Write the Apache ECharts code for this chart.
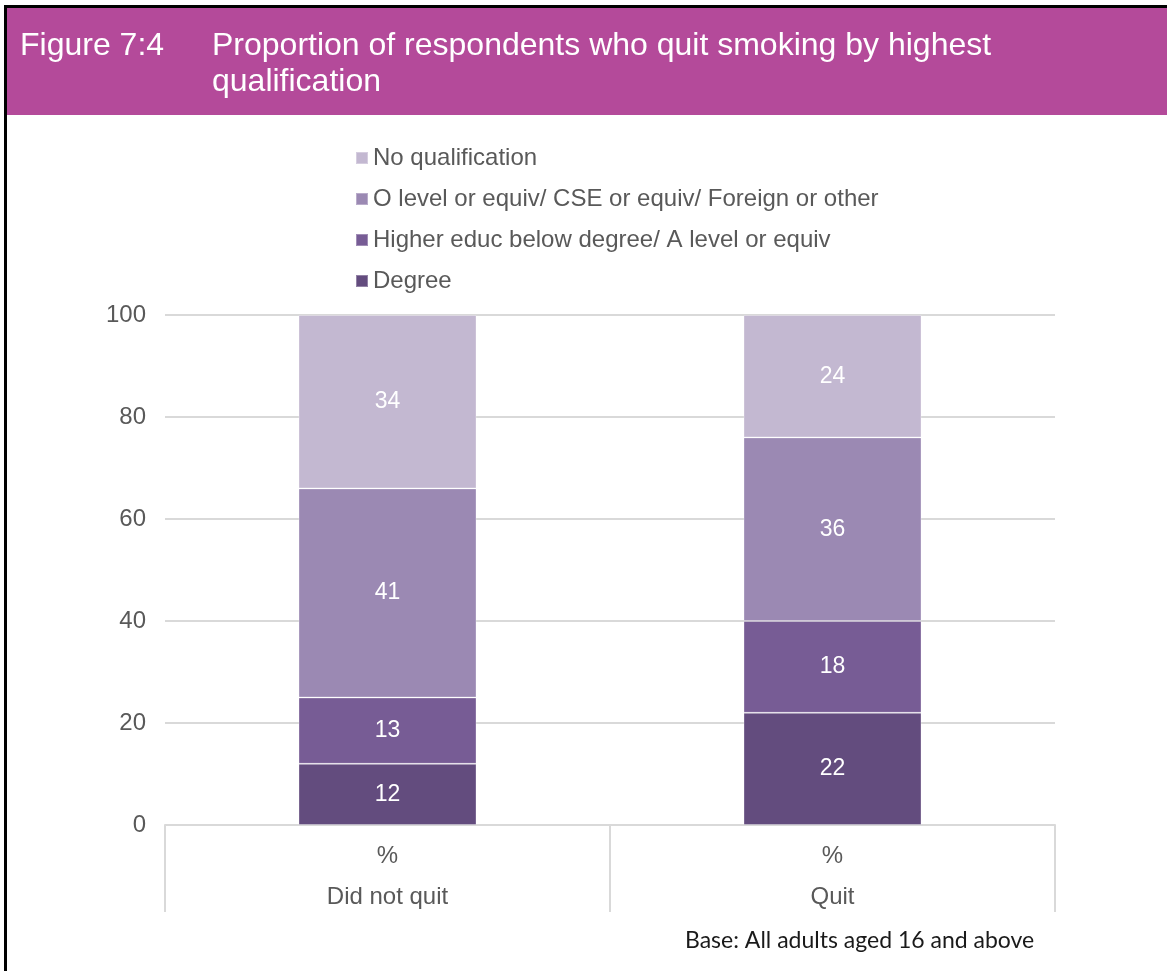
<!DOCTYPE html>
<html>
<head>
<meta charset="utf-8">
<title>Figure 7:4</title>
<script src="https://cdn.jsdelivr.net/npm/echarts@6/dist/echarts.min.js"></script>
<style>
  html, body { margin: 0; padding: 0; background: #ffffff; }
  #chart { width: 1167px; height: 971px; }
</style>
</head>
<body>
<div id="chart"></div>
<script>
// Respondent groups along the x axis, with the unit row drawn above each name
const categories = ['Did not quit', 'Quit'];
const unitLabels = ['%', '%'];

// Highest qualification shares (%), stacked from the bottom up
const degree = [12, 22];
const higherEduc = [13, 18];
const oLevel = [41, 36];
const noQualification = [34, 24];

const seriesNames = [
  'Degree',
  'Higher educ below degree/ A level or equiv',
  'O level or equiv/ CSE or equiv/ Foreign or other',
  'No qualification'
];
const seriesValues = [degree, higherEduc, oLevel, noQualification];
const seriesColors = ['#634C7E', '#775C95', '#9B89B3', '#C3B8D1'];

// Value axis ticks
const yMin = 0;
const yMax = 100;
const yStep = 20;

const textGrey = '#595959';
const gridGrey = '#D9D9D9';
const fontFamily = '"Liberation Sans", Arial, sans-serif';

const chart = echarts.init(document.getElementById('chart'), null, { renderer: 'canvas' });

const series = seriesNames.map((name, i) => ({
  name: name,
  type: 'bar',
  stack: 'total',
  barWidth: '40%',
  data: seriesValues[i],
  itemStyle: {
    color: seriesColors[i],
    borderColor: 'rgba(255,255,255,0.3)',
    borderWidth: 1
  },
  label: {
    show: true,
    position: 'inside',
    color: '#FFFFFF',
    fontFamily: fontFamily,
    fontSize: 23
  },
  emphasis: { disabled: true }
}));

chart.setOption({
  animation: false,
  backgroundColor: '#FFFFFF',
  title: [
    {
      text: 'Figure 7:4',
      left: 15,
      top: 23,
      textStyle: { color: '#FFFFFF', fontFamily: fontFamily, fontSize: 32, fontWeight: 'normal', lineHeight: 36 }
    },
    {
      text: 'Proportion of respondents who quit smoking by highest\nqualification',
      left: 207,
      top: 23,
      textStyle: { color: '#FFFFFF', fontFamily: fontFamily, fontSize: 32, fontWeight: 'normal', lineHeight: 36 }
    },
    {
      text: 'Base: All adults aged 16 and above',
      left: 680,
      top: 924,
      textStyle: { color: '#1A1A1A', fontFamily: 'Lato, "Open Sans", sans-serif', fontSize: 23, fontWeight: 'normal' }
    }
  ],
  graphic: [
    // header band
    { type: 'rect', z: -10, shape: { x: 7, y: 8, width: 1160, height: 107 }, style: { fill: '#B44A9A' } },
    // frame lines
    { type: 'rect', z: -5, shape: { x: 4, y: 5, width: 1163, height: 3 }, style: { fill: '#000000' } },
    { type: 'rect', z: -5, shape: { x: 4, y: 5, width: 3, height: 966 }, style: { fill: '#000000' } }
  ],
  legend: {
    orient: 'vertical',
    left: 350,
    top: 141,
    itemWidth: 12,
    itemHeight: 12,
    itemGap: 17,
    icon: 'rect',
    data: seriesNames.slice().reverse(),
    textStyle: { color: textGrey, fontFamily: fontFamily, fontSize: 24, lineHeight: 24 },
    selectedMode: false
  },
  grid: {
    left: 165,
    right: 112,
    top: 315,
    bottom: 146,
    containLabel: false
  },
  xAxis: {
    type: 'category',
    data: categories,
    axisLine: { show: true, lineStyle: { color: gridGrey, width: 2 } },
    axisTick: { show: true, interval: 0, length: 87, lineStyle: { color: gridGrey, width: 2 } },
    axisLabel: {
      interval: 0,
      margin: 11,
      formatter: (value, idx) => '{u|' + unitLabels[idx] + '}\n{c|' + value + '}',
      rich: {
        u: { color: textGrey, fontFamily: fontFamily, fontSize: 24, lineHeight: 41 },
        c: { color: textGrey, fontFamily: fontFamily, fontSize: 24, lineHeight: 41 }
      }
    }
  },
  yAxis: {
    type: 'value',
    min: yMin,
    max: yMax,
    interval: yStep,
    axisLine: { show: false },
    axisTick: { show: false },
    axisLabel: { color: textGrey, fontFamily: fontFamily, fontSize: 24, margin: 19 },
    splitLine: { lineStyle: { color: gridGrey, width: 2 } }
  },
  series: series
});
</script>
</body>
</html>
